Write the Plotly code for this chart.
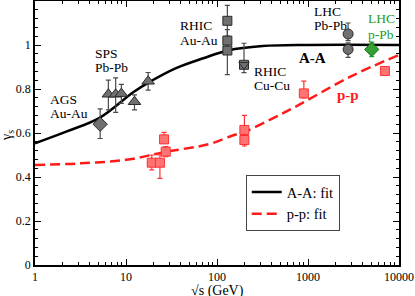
import plotly.graph_objects as go

# ---------------- data ----------------
# A-A fit curve
aa_fit_x = [1, 2.24, 5.18, 12.0, 17.8, 35.5, 70.8, 132, 316, 1000, 10000]
aa_fit_y = [0.553, 0.607, 0.67, 0.785, 0.83, 0.895, 0.94, 0.975, 0.995, 1.0, 1.0]

# p-p fit curve
pp_fit_x = [1, 3.16, 10, 28, 83, 151, 200, 490, 813, 2884, 10000]
pp_fit_y = [0.455, 0.462, 0.478, 0.515, 0.55, 0.59, 0.605, 0.683, 0.73, 0.855, 0.955]

# AGS Au-Au
ags_x = [5.2]
ags_y = [0.64]
ags_ep = [0.07]
ags_em = [0.065]

# SPS Pb-Pb
sps_x = [6.4, 7.7, 8.9, 12.4, 17.5]
sps_y = [0.776, 0.776, 0.779, 0.742, 0.835]
sps_ep = [0.064, 0.075, 0.042, 0.031, 0.04]
sps_em = [0.071, 0.082, 0.044, 0.037, 0.04]

# RHIC Au-Au
rhic_au_x = [130, 130, 130]
rhic_au_y = [1.11, 1.02, 0.975]
rhic_au_ep = [0.07, 0.05, 0.03]
rhic_au_em = [0.07, 0.05, 0.11]

# RHIC Cu-Cu
rhic_cu_x = [198]
rhic_cu_y = [0.91]
rhic_cu_ep = [0.098]
rhic_cu_em = [0.036]

# LHC Pb-Pb
lhc_pb_x = [2760, 2760]
lhc_pb_y = [1.05, 0.98]
lhc_pb_ep = [0.05, 0.03]
lhc_pb_em = [0.03, 0.036]

# LHC p-Pb
lhc_ppb_x = [5020]
lhc_ppb_y = [0.98]
lhc_ppb_ep = [0.033]
lhc_ppb_em = [0.033]

# p-p data
pp_x = [19.2, 23.6, 27.3, 26.2, 200, 200, 900, 7000]
pp_y = [0.465, 0.465, 0.515, 0.571, 0.614, 0.568, 0.78, 0.882]
pp_ep = [0.035, 0.035, 0.023, 0.032, 0.066, 0.02, 0.056, 0.0]
pp_em = [0.033, 0.071, 0.023, 0.018, 0.02, 0.027, 0.02, 0.0]

x_tickvals = [1, 10, 100, 1000, 10000]
x_ticktext = ["1", "10", "100", "1000", "10000"]
y_tickvals = [0, 0.2, 0.4, 0.6, 0.8, 1.0]
y_ticktext = ["0", "0.2", "0.4", "0.6", "0.8", "1"]

x_title = "√s (GeV)"
y_title = "γ<sub>s</sub>"

FONT = "Liberation Serif, Times New Roman, Times, serif"
GRAY_FILL = "#707070"
GRAY_LINE = "#2b2b2b"
GRAY_ERR = "#4a4a4a"
RED_FILL = "#ff7373"
RED_LINE = "#ff3030"
GREEN_FILL = "#33a033"
GREEN_LINE = "#176e17"

fig = go.Figure()


def errs(ep, em, color):
    return dict(type="data", symmetric=False, array=ep, arrayminus=em,
                color=color, thickness=1.2, width=2.5)


# fits
fig.add_trace(go.Scatter(x=aa_fit_x, y=aa_fit_y, mode="lines", name="A-A: fit",
                         line=dict(color="black", width=2.5, shape="spline", smoothing=1.0)))
fig.add_trace(go.Scatter(x=pp_fit_x, y=pp_fit_y, mode="lines", name="p-p: fit",
                         line=dict(color="#ff1a1a", width=2.5, dash="10px,5px",
                                   shape="spline", smoothing=1.0)))

# p-p data
fig.add_trace(go.Scatter(x=pp_x, y=pp_y, mode="markers", showlegend=False,
                         error_y=errs(pp_ep, pp_em, RED_LINE),
                         marker=dict(symbol="square", size=9, color=RED_FILL,
                                     line=dict(color=RED_LINE, width=1))))

# A-A data
fig.add_trace(go.Scatter(x=ags_x, y=ags_y, mode="markers", showlegend=False,
                         error_y=errs(ags_ep, ags_em, GRAY_ERR),
                         marker=dict(symbol="diamond", size=11, color=GRAY_FILL,
                                     line=dict(color=GRAY_LINE, width=1))))
fig.add_trace(go.Scatter(x=sps_x, y=sps_y, mode="markers", showlegend=False,
                         error_y=errs(sps_ep, sps_em, GRAY_ERR),
                         marker=dict(symbol="triangle-up", size=11, color=GRAY_FILL,
                                     line=dict(color=GRAY_LINE, width=1))))
fig.add_trace(go.Scatter(x=rhic_au_x, y=rhic_au_y, mode="markers", showlegend=False,
                         error_y=errs(rhic_au_ep, rhic_au_em, GRAY_ERR),
                         marker=dict(symbol="square", size=9, color=GRAY_FILL,
                                     line=dict(color=GRAY_LINE, width=1))))
fig.add_trace(go.Scatter(x=rhic_cu_x, y=rhic_cu_y, mode="markers", showlegend=False,
                         error_y=errs(rhic_cu_ep, rhic_cu_em, GRAY_ERR),
                         marker=dict(symbol="square", size=9, color=GRAY_FILL,
                                     line=dict(color=GRAY_LINE, width=1))))
fig.add_trace(go.Scatter(x=rhic_cu_x, y=rhic_cu_y, mode="markers", showlegend=False,
                         marker=dict(symbol="triangle-down", size=9, color=GRAY_FILL,
                                     line=dict(color=GRAY_LINE, width=1))))
fig.add_trace(go.Scatter(x=lhc_pb_x, y=lhc_pb_y, mode="markers", showlegend=False,
                         error_y=errs(lhc_pb_ep, lhc_pb_em, GRAY_ERR),
                         marker=dict(symbol="circle", size=10, color=GRAY_FILL,
                                     line=dict(color=GRAY_LINE, width=1))))
fig.add_trace(go.Scatter(x=lhc_ppb_x, y=lhc_ppb_y, mode="markers", showlegend=False,
                         error_y=errs(lhc_ppb_ep, lhc_ppb_em, GREEN_FILL),
                         marker=dict(symbol="diamond", size=11, color=GREEN_FILL,
                                     line=dict(color=GREEN_LINE, width=1))))

# annotations (x in log10 units for log axis)
labels = [
    ("AGS", 0.143, 0.752, "black", False),
    ("Au-Au", 0.143, 0.689, "black", False),
    ("SPS", 0.634, 0.961, "black", False),
    ("Pb-Pb", 0.634, 0.896, "black", False),
    ("RHIC", 1.568, 1.09, "black", False),
    ("Au-Au", 1.568, 1.019, "black", False),
    ("RHIC", 2.385, 0.879, "black", False),
    ("Cu-Cu", 2.385, 0.816, "black", False),
    ("LHC", 3.044, 1.154, "black", False),
    ("Pb-Pb", 3.044, 1.089, "black", False),
    ("LHC", 3.637, 1.12, "#22a022", False),
    ("p-Pb", 3.637, 1.05, "#22a022", False),
    ("A-A", 2.879, 0.943, "black", True),
    ("p-p", 3.297, 0.773, "#ff1a1a", True),
]
for txt, lx, ly, col, bold in labels:
    fig.add_annotation(x=lx, y=ly, xref="x", yref="y", showarrow=False,
                       text=f"<b>{txt}</b>" if bold else txt,
                       xanchor="left", yanchor="middle",
                       font=dict(family=FONT, size=15 if bold else 13.5, color=col))

# axis titles
fig.add_annotation(x=0.5, y=-0.098, xref="paper", yref="paper", showarrow=False,
                   text=x_title, xanchor="center", yanchor="middle",
                   font=dict(family=FONT, size=14, color="black"))
fig.add_annotation(x=-0.076, y=0.49, xref="paper", yref="paper", showarrow=False,
                   text=y_title, textangle=-90, xanchor="center", yanchor="middle",
                   font=dict(family=FONT, size=14, color="black"))

axis_common = dict(showline=True, linecolor="black", linewidth=1.5, mirror="allticks",
                   ticks="inside", ticklen=6, tickwidth=1, tickcolor="black",
                   showgrid=False, zeroline=False,
                   tickfont=dict(family=FONT, size=12, color="black"))

fig.update_xaxes(type="log", range=[0, 4], tickmode="array",
                 tickvals=x_tickvals, ticktext=x_ticktext,
                 minor=dict(ticks="inside", ticklen=3, tickcolor="black", dtick="D1", showgrid=False),
                 **axis_common)
fig.update_yaxes(range=[0, 1.2], tickmode="array",
                 tickvals=y_tickvals, ticktext=y_ticktext,
                 minor=dict(ticks="inside", ticklen=3, tickcolor="black", dtick=0.04,
                            tick0=0, showgrid=False),
                 **axis_common)

fig.update_layout(
    width=415, height=296,
    margin=dict(l=35, r=16, t=1, b=31, autoexpand=False),
    plot_bgcolor="white", paper_bgcolor="white",
    font=dict(family=FONT, color="black"),
    legend=dict(x=0.579, y=0.341, xanchor="left", yanchor="top",
                bordercolor="#444444", borderwidth=1, bgcolor="white",
                font=dict(family=FONT, size=14.5, color="black"),
                tracegroupgap=0, itemwidth=30),
)

fig.write_html("out.html", config={"displayModeBar": False},
               post_script="document.body.style.margin='0';document.body.style.padding='0';")
